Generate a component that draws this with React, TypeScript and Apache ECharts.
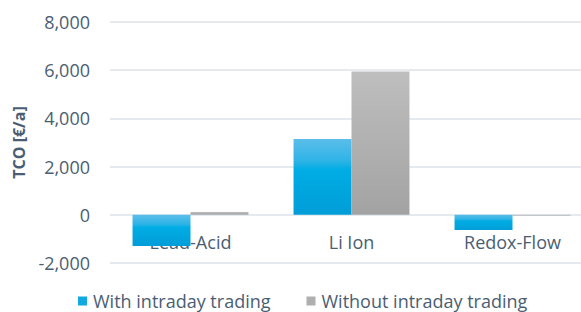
import React, { useEffect, useRef } from "react";
import * as echarts from "echarts";

const categories = ["Lead-Acid", "Li Ion", "Redox-Flow"];
const withIntraday = [-1290, 3150, -630];
const withoutIntraday = [120, 5950, -30];
const seriesNames = ["With intraday trading", "Without intraday trading"];

const TEXT = "#4A5E73";
const FONT = "Open Sans";
const GRID = "#DCE3EA";

export default function App() {
  const ref = useRef<HTMLDivElement>(null);
  useEffect(() => {
    if (!ref.current) return;
    const chart = echarts.init(ref.current, undefined, { renderer: "svg" });
    const blue = new echarts.graphic.LinearGradient(0, 0, 0, 1, [
      { offset: 0, color: "#5CBEEA" },
      { offset: 0.3, color: "#2CB3E6" },
      { offset: 0.4, color: "#00ADE4" },
      { offset: 1, color: "#019DD8" },
    ]);
    const grey = new echarts.graphic.LinearGradient(0, 0, 0, 1, [
      { offset: 0, color: "#BEBEBE" },
      { offset: 1, color: "#A3A3A3" },
    ]);
    chart.setOption({
      animation: false,
      textStyle: { fontFamily: FONT },
      grid: { left: 110, top: 22, width: 483, height: 241, containLabel: false },
      legend: {
        left: 73,
        top: 287,
        itemWidth: 9,
        itemHeight: 9,
        itemGap: 36,
        icon: "rect",
        textStyle: { color: TEXT, fontSize: 18, fontFamily: FONT, padding: [0, 0, 0, 1] },
        data: [
          { name: seriesNames[0], itemStyle: { color: "#11A9E0" } },
          { name: seriesNames[1], itemStyle: { color: "#AFAFAF" } },
        ],
      },
      xAxis: {
        type: "category",
        data: categories,
        offset: -48,
        axisLine: { show: false, onZero: false },
        axisTick: { show: false },
        axisLabel: { color: TEXT, fontSize: 18, margin: 18, fontFamily: FONT },
      },
      yAxis: {
        type: "value",
        min: -2000,
        max: 8000,
        interval: 2000,
        name: "TCO [€/a]",
        nameLocation: "middle",
        nameGap: 80,
        nameTextStyle: { color: TEXT, fontSize: 16, fontWeight: "bold", fontFamily: FONT },
        axisLabel: {
          color: TEXT,
          fontSize: 18,
          margin: 20,
          fontFamily: FONT,
          formatter: (v: number) => v.toLocaleString("en-US"),
        },
        splitLine: { lineStyle: { color: GRID, width: 1.5 } },
      },
      series: [
        {
          name: seriesNames[0],
          type: "bar",
          data: withIntraday,
          barGap: "0%",
          barCategoryGap: "28%",
          itemStyle: { color: blue },
        },
        {
          name: seriesNames[1],
          type: "bar",
          data: withoutIntraday,
          barGap: "0%",
          barCategoryGap: "28%",
          itemStyle: { color: grey },
        },
      ],
    });
    return () => chart.dispose();
  }, []);
  return (
    <div
      style={{
        position: "absolute",
        left: 0,
        top: 0,
        width: 581,
        height: 312,
        overflow: "hidden",
      }}
    >
      <div ref={ref} style={{ width: 593, height: 312 }} />
    </div>
  );
}
